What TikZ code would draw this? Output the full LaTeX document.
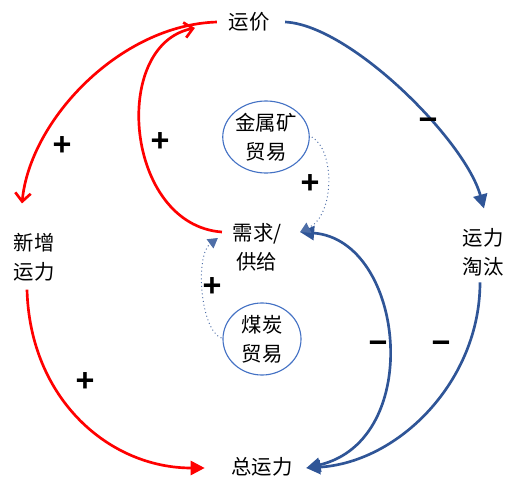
\documentclass[tikz,border=0pt]{standalone}
\usepackage{fontspec}
\newfontfamily\cjk{Noto Sans CJK SC}
\newfontfamily\signfont{Liberation Sans}
\definecolor{loopred}{RGB}{255,0,0}
\definecolor{loopblue}{RGB}{47,85,151}
\definecolor{ringblue}{RGB}{68,114,196}
\usetikzlibrary{arrows.meta,shapes.geometric,calc}

\begin{document}
\begin{tikzpicture}[x=0.025cm,y=-0.025cm,
      var/.style={font=\cjk\fontsize{14.5}{20.5}\selectfont,align=center,inner sep=1pt},
      trade/.style={ellipse,draw=ringblue,line width=0.8pt,minimum width=1.95cm,
                    minimum height=1.8cm,inner sep=0pt,
                    font=\cjk\fontsize{14.5}{20.5}\selectfont,align=center},
      sign/.style={font=\signfont\bfseries\fontsize{23}{23}\selectfont,inner sep=0pt},
      redlink/.style={draw=loopred,line width=1.9pt},
      bluelink/.style={draw=loopblue,line width=1.9pt},
      dotlink/.style={draw=loopblue!85,line width=0.7pt,dotted}]

      \useasboundingbox (0,0) rectangle (529,494);

      % Variablen
      \node[var]   (price)  at (249,22)  {运价};
      \node[var]   (newcap) at (34,257)  {新增\\运力};
      \node[var]   (retire) at (483,252) {运力\\淘汰};
      \node[var]   (demand) at (257,247) {需求/\\供给};
      \node[trade] (metal)  at (266,137) {金属矿\\贸易};
      \node[trade] (coal)   at (262,339) {煤炭\\贸易};
      \node[var]   (total)  at (262,467) {总运力};

      % rote Schleifen
      \draw[redlink,-{Straight Barb[length=6pt,width=11pt]}]
        ($(price.west)+(-10,0)$) .. controls (120,25) and (30,120) .. ($(newcap.north)+(-12,-28)$);
      \draw[redlink,-{Straight Barb[length=6pt,width=11pt]}]
        ($(demand.west)+(-9,-15)$) .. controls (125,225) and (110,45) .. ($(price.west)+(-32,6)$);
      \draw[redlink,-{Triangle[length=10pt,width=10pt]}]
        ($(newcap.south)+(-7,7)$) .. controls (30,400) and (110,468) .. ($(total.west)+(-25,1)$);

      % blaue Schleifen
      \draw[bluelink,-{Triangle[length=10pt,width=10pt]}]
        ($(price.east)+(14,0)$) .. controls (350,25) and (465,140) .. ($(retire.north)+(1,-18)$);
      \draw[bluelink,-{Triangle[length=10pt,width=10pt]}]
        ($(retire.south)+(-3,5)$) .. controls (480,380) and (400,462) .. ($(total.east)+(12,1)$);
      \draw[bluelink,{Triangle[length=10pt,width=10pt]}-{Triangle[length=10pt,width=10pt]}]
        ($(demand.east)+(17,-15)$) .. controls (405,240) and (425,440) .. ($(total.east)+(12,1)$);

      % Handel
      \draw[dotlink,-{Triangle[length=7pt,width=8pt]}]
        ($(metal.east)+(2,0)$) .. controls (335,150) and (335,215) .. ($(demand.east)+(17,-15)$);
      \draw[dotlink,-{Triangle[length=7pt,width=8pt]}]
        ($(coal.west)+(-1,-1)$) .. controls (200,330) and (195,255) .. ($(demand.west)+(-13,-9)$);

      % Vorzeichen
      \node[sign] (p1) at (62,146)  {+};
      \node[sign] (p2) at (160,142) {+};
      \node[sign] (p3) at (310,184) {+};
      \node[sign] (p4) at (212,287) {+};
      \node[sign] (p5) at (85,382)  {+};
      \node[sign] (m1) at (428,124) {−};
      \node[sign] (m2) at (378,347) {−};
      \node[sign] (m3) at (441,347) {−};
    \end{tikzpicture}
\end{document}
